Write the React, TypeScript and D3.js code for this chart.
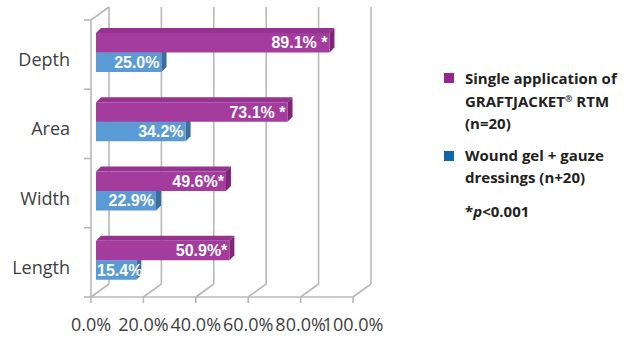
import React from "react";
import * as d3 from "d3";

// Percentage reduction in wound dimensions by treatment
const categories = ["Depth", "Area", "Width", "Length"];
const graftjacket = [89.1, 73.1, 49.6, 50.9];
const graftjacketLabels = ["89.1% *", "73.1% *", "49.6%*", "50.9%*"];
const woundGel = [25.0, 34.2, 22.9, 15.4];
const woundGelLabels = ["25.0%", "34.2%", "22.9%", "15.4%"];
const xTicks = [0, 20, 40, 60, 80, 100];

const W = 629;
const H = 339;

// 3D projection offsets: back wall relative to front plane, bars relative to front plane
const DEPTH_DX = 18;
const DEPTH_DY = -13;
const BAR_DX = 5;
const FACE_D = 5;

const GRID = "#b8b8b8";
const LABEL = "#404040";

const purple = { front: "#a43c9e", top: "#963390", side: "#7c2676" };
const blue = { front: "#5a9bd5", top: "#4f8cc4", side: "#3c6e9c" };

export default function App() {
  const x = d3.scaleLinear().domain([0, 100]).range([91, 353]);
  const y = d3.scaleBand<string>().domain(categories).range([20, 297]);
  const floorY = 297;
  const topY = 20;
  const barH = 19.5;
  const pairOffset = 13;

  const bar = (
    key: string,
    v: number,
    top: number,
    c: { front: string; top: string; side: string },
    label: string
  ) => {
    const x0 = x(0) + BAR_DX;
    const x1 = x(v) + BAR_DX;
    const b = top + barH;
    const short = x1 - x0 < 50;
    return (
      <g key={key}>
        <polygon
          points={`${x0},${top} ${x0 + FACE_D},${top - FACE_D} ${x1 + FACE_D},${top - FACE_D} ${x1},${top}`}
          fill={c.top}
        />
        <polygon
          points={`${x1},${top} ${x1 + FACE_D},${top - FACE_D} ${x1 + FACE_D},${b - FACE_D} ${x1},${b}`}
          fill={c.side}
        />
        <rect x={x0} y={top} width={x1 - x0} height={barH} fill={c.front} />
        <text
          x={short ? x0 + 1 : x1 - 2}
          y={top + barH / 2 + 5.5}
          textAnchor={short ? "start" : "end"}
          fill="#ffffff"
          fontWeight="bold"
          fontSize={16}
          fontFamily="'Liberation Sans', Arial, sans-serif"
        >
          {label}
        </text>
      </g>
    );
  };

  return (
    <svg width={W} height={H} style={{ position: "absolute", left: 0, top: 0, background: "#fff" }}>
      {/* back wall gridlines */}
      {xTicks.map((t) => (
        <line
          key={`g${t}`}
          x1={x(t) + DEPTH_DX}
          x2={x(t) + DEPTH_DX}
          y1={topY + DEPTH_DY}
          y2={floorY + DEPTH_DY}
          stroke={GRID}
          strokeWidth={1.6}
        />
      ))}
      {/* floor diagonals */}
      {xTicks.map((t) => (
        <line
          key={`f${t}`}
          x1={x(t)}
          x2={x(t) + DEPTH_DX}
          y1={floorY}
          y2={floorY + DEPTH_DY}
          stroke={GRID}
          strokeWidth={1.6}
        />
      ))}
      {/* floor front edge and ticks */}
      <line x1={x(0)} x2={x(100)} y1={floorY} y2={floorY} stroke={GRID} strokeWidth={1.6} />
      {xTicks.map((t) => (
        <line key={`t${t}`} x1={x(t)} x2={x(t)} y1={floorY} y2={floorY + 6} stroke={GRID} strokeWidth={1.6} />
      ))}
      {/* left wall */}
      <line x1={x(0)} x2={x(0)} y1={topY} y2={floorY} stroke={GRID} strokeWidth={1.6} />
      <line
        x1={x(0)}
        x2={x(0) + DEPTH_DX}
        y1={topY}
        y2={topY + DEPTH_DY}
        stroke={GRID}
        strokeWidth={1.6}
      />
      {[...categories.map((c) => y(c) as number), floorY].map((v, i) => (
        <line key={`lt${i}`} x1={x(0) - 7} x2={x(0)} y1={v} y2={v} stroke={GRID} strokeWidth={1.6} />
      ))}

      {/* bars */}
      {categories.map((c, i) => {
        const top = (y(c) as number) + pairOffset;
        return (
          <g key={c}>
            {bar(`b${i}`, woundGel[i], top + barH, blue, woundGelLabels[i])}
            {bar(`p${i}`, graftjacket[i], top, purple, graftjacketLabels[i])}
          </g>
        );
      })}

      {/* category labels */}
      {categories.map((c) => (
        <text
          key={`c${c}`}
          x={70}
          y={(y(c) as number) + y.bandwidth() / 2 + 11.5}
          textAnchor="end"
          fill={LABEL}
          fontSize={18}
          fontFamily="'Open Sans', sans-serif"
        >
          {c}
        </text>
      ))}

      {/* x tick labels */}
      {xTicks.map((t) => (
        <text
          key={`xl${t}`}
          x={x(t)}
          y={331}
          textAnchor="middle"
          fill={LABEL}
          fontSize={18}
          fontFamily="'Open Sans', sans-serif"
        >
          {d3.format(".1f")(t) + "%"}
        </text>
      ))}

      {/* legend */}
      <g fontFamily="'Open Sans', sans-serif" fontWeight="bold" fontSize={15} fill="#231f20">
        <rect x={444} y={73} width={10} height={10} fill="#93278f" />
        <text x={465} y={84}>Single application of</text>
        <text x={465} y={107}>
          GRAFTJACKET
          <tspan fontSize={9} dy={-5}>®</tspan>
          <tspan dy={5}> RTM</tspan>
        </text>
        <text x={465} y={129}>(n=20)</text>
        <rect x={444} y={151} width={10} height={10} fill="#0f68a8" />
        <text x={465} y={161}>Wound gel + gauze</text>
        <text x={465} y={183}>dressings (n+20)</text>
        <text x={465} y={217}>
          *<tspan fontStyle="italic">p</tspan>&lt;0.001
        </text>
      </g>
    </svg>
  );
}
